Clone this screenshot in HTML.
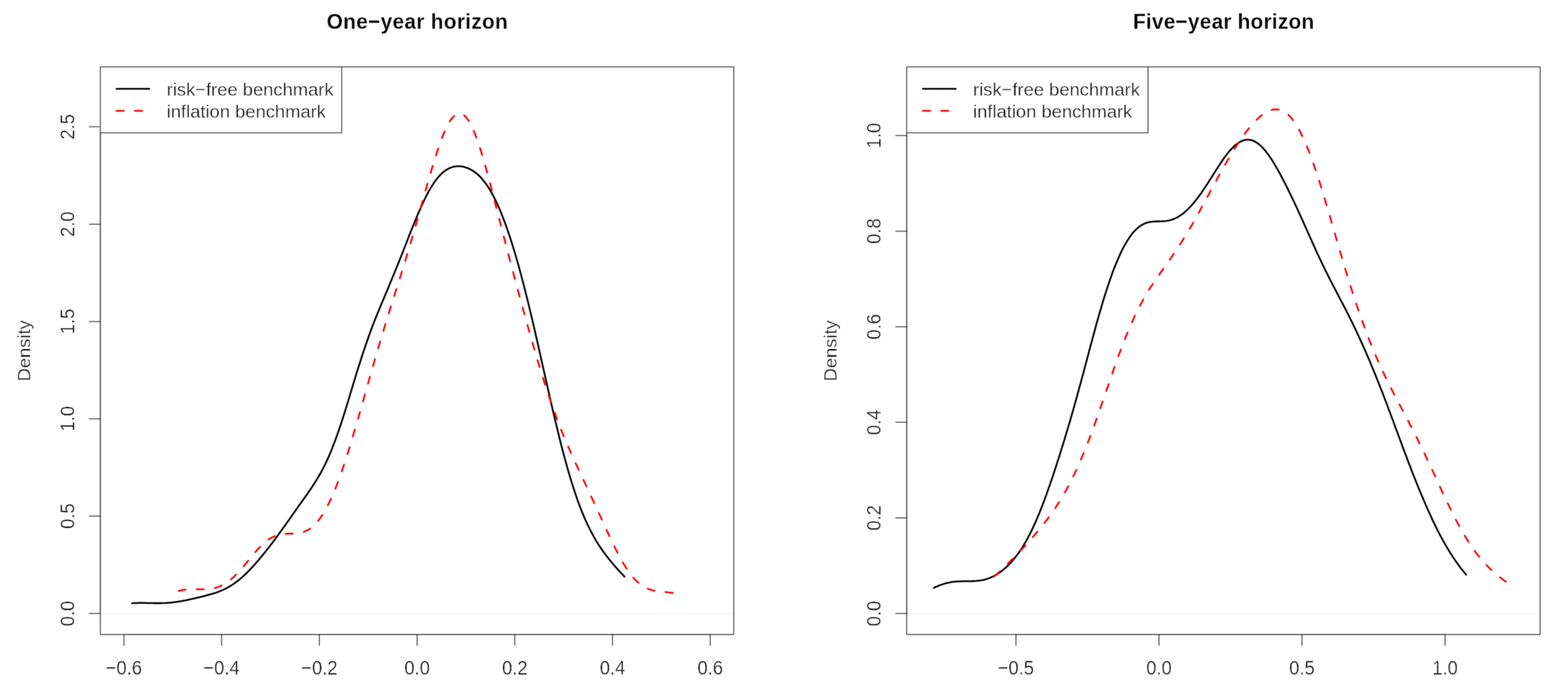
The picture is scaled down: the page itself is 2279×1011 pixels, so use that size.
<!DOCTYPE html>
<html><head><meta charset="utf-8"><title>Density plots</title>
<style>
html,body{margin:0;padding:0;background:#fff;}
svg{display:block;}
text{font-family:"Liberation Sans",sans-serif;fill:#0c0c0c;stroke:#fff;stroke-width:0.42px;}
.t{font-weight:bold;font-size:30.4px;fill:#000;stroke:#fff;stroke-width:0.3px;}
.l{font-size:26.7px;}
.ax{stroke:#000;stroke-opacity:0.8;stroke-width:1.25;fill:none;stroke-linecap:round;stroke-linejoin:round;}
.a2{stroke:#000;stroke-opacity:0.27;stroke-width:1.25;fill:none;stroke-linecap:butt;}
</style></head><body>
<svg xmlns="http://www.w3.org/2000/svg" width="2279" height="1011" viewBox="0 0 2279 1011">
<rect width="2279" height="1011" fill="#fff"/>
<defs><filter id="soft" x="0" y="0" width="2279" height="1011" filterUnits="userSpaceOnUse" color-interpolation-filters="sRGB"><feConvolveMatrix order="3" kernelMatrix="0.01440 0.09120 0.01440 0.09120 0.57760 0.09120 0.01440 0.09120 0.01440" divisor="1" edgeMode="duplicate" preserveAlpha="true"/></filter></defs><g filter="url(#soft)"><rect width="2279" height="1011" fill="#fff"/>
<text class="t" transform="translate(474.8,42.25) scale(1,1.045)" textLength="263.2" lengthAdjust="spacing">One−year horizon</text>
<line x1="145.8" y1="891.5" x2="1066.5" y2="891.5" stroke="#e9e9e9" stroke-width="1"/>
<path d="M192.0,876.2 L193.8,876.1 L195.6,876.0 L197.4,876.0 L199.2,875.9 L201.0,875.8 L202.8,875.8 L204.6,875.8 L206.3,875.8 L208.1,875.8 L209.9,875.8 L211.7,875.8 L213.5,875.9 L215.3,875.9 L217.1,875.9 L218.9,876.0 L220.7,876.0 L222.5,876.1 L224.3,876.1 L226.1,876.1 L227.9,876.1 L229.7,876.1 L231.5,876.1 L233.3,876.1 L235.0,876.1 L236.8,876.0 L238.6,876.0 L240.4,875.9 L242.2,875.8 L244.0,875.7 L245.8,875.5 L247.6,875.4 L249.4,875.2 L251.2,875.0 L253.0,874.8 L254.8,874.6 L256.6,874.3 L258.4,874.1 L260.2,873.8 L261.9,873.5 L263.7,873.2 L265.5,872.8 L267.3,872.5 L269.1,872.2 L270.9,871.8 L272.7,871.4 L274.5,871.0 L276.3,870.6 L278.1,870.3 L279.9,869.8 L281.7,869.4 L283.5,869.0 L285.3,868.6 L287.1,868.2 L288.8,867.8 L290.6,867.3 L292.4,866.9 L294.2,866.5 L296.0,866.0 L297.8,865.6 L299.6,865.1 L301.4,864.6 L303.2,864.1 L305.0,863.6 L306.8,863.1 L308.6,862.6 L310.4,862.0 L312.2,861.5 L314.0,860.9 L315.8,860.2 L317.5,859.6 L319.3,858.9 L321.1,858.2 L322.9,857.4 L324.7,856.6 L326.5,855.7 L328.3,854.9 L330.1,853.9 L331.9,852.9 L333.7,851.9 L335.5,850.8 L337.3,849.7 L339.1,848.5 L340.9,847.2 L342.7,845.9 L344.4,844.6 L346.2,843.2 L348.0,841.7 L349.8,840.2 L351.6,838.7 L353.4,837.1 L355.2,835.4 L357.0,833.7 L358.8,832.0 L360.6,830.2 L362.4,828.3 L364.2,826.5 L366.0,824.5 L367.8,822.6 L369.6,820.6 L371.3,818.6 L373.1,816.6 L374.9,814.5 L376.7,812.4 L378.5,810.2 L380.3,808.1 L382.1,805.9 L383.9,803.7 L385.7,801.4 L387.5,799.2 L389.3,796.9 L391.1,794.6 L392.9,792.3 L394.7,789.9 L396.5,787.6 L398.3,785.2 L400.0,782.8 L401.8,780.4 L403.6,777.9 L405.4,775.5 L407.2,773.0 L409.0,770.5 L410.8,768.0 L412.6,765.5 L414.4,763.0 L416.2,760.5 L418.0,757.9 L419.8,755.4 L421.6,752.9 L423.4,750.3 L425.2,747.8 L426.9,745.3 L428.7,742.7 L430.5,740.2 L432.3,737.7 L434.1,735.1 L435.9,732.6 L437.7,730.1 L439.5,727.6 L441.3,725.1 L443.1,722.5 L444.9,720.0 L446.7,717.4 L448.5,714.8 L450.3,712.2 L452.1,709.6 L453.8,706.9 L455.6,704.2 L457.4,701.4 L459.2,698.6 L461.0,695.6 L462.8,692.6 L464.6,689.5 L466.4,686.3 L468.2,683.0 L470.0,679.6 L471.8,676.0 L473.6,672.4 L475.4,668.5 L477.2,664.6 L479.0,660.5 L480.8,656.2 L482.5,651.9 L484.3,647.3 L486.1,642.6 L487.9,637.8 L489.7,632.8 L491.5,627.7 L493.3,622.5 L495.1,617.1 L496.9,611.6 L498.7,606.0 L500.5,600.4 L502.3,594.7 L504.1,588.9 L505.9,583.0 L507.7,577.1 L509.4,571.2 L511.2,565.3 L513.0,559.4 L514.8,553.4 L516.6,547.6 L518.4,541.7 L520.2,536.0 L522.0,530.2 L523.8,524.6 L525.6,519.0 L527.4,513.5 L529.2,508.1 L531.0,502.8 L532.8,497.6 L534.6,492.5 L536.3,487.5 L538.1,482.6 L539.9,477.8 L541.7,473.0 L543.5,468.4 L545.3,463.8 L547.1,459.3 L548.9,454.8 L550.7,450.4 L552.5,446.1 L554.3,441.7 L556.1,437.4 L557.9,433.2 L559.7,428.9 L561.5,424.7 L563.3,420.4 L565.0,416.2 L566.8,411.9 L568.6,407.6 L570.4,403.3 L572.2,398.9 L574.0,394.5 L575.8,390.1 L577.6,385.7 L579.4,381.2 L581.2,376.8 L583.0,372.2 L584.8,367.7 L586.6,363.2 L588.4,358.6 L590.2,354.0 L591.9,349.4 L593.7,344.9 L595.5,340.3 L597.3,335.8 L599.1,331.3 L600.9,326.8 L602.7,322.4 L604.5,318.1 L606.3,313.8 L608.1,309.5 L609.9,305.4 L611.7,301.4 L613.5,297.4 L615.3,293.5 L617.1,289.8 L618.8,286.2 L620.6,282.7 L622.4,279.3 L624.2,276.1 L626.0,273.0 L627.8,270.1 L629.6,267.3 L631.4,264.6 L633.2,262.1 L635.0,259.8 L636.8,257.6 L638.6,255.5 L640.4,253.7 L642.2,251.9 L644.0,250.3 L645.8,248.9 L647.5,247.6 L649.3,246.4 L651.1,245.4 L652.9,244.5 L654.7,243.7 L656.5,243.1 L658.3,242.5 L660.1,242.1 L661.9,241.8 L663.7,241.6 L665.5,241.5 L667.3,241.5 L669.1,241.6 L670.9,241.8 L672.7,242.1 L674.4,242.5 L676.2,243.0 L678.0,243.6 L679.8,244.2 L681.6,245.0 L683.4,245.9 L685.2,246.8 L687.0,247.9 L688.8,249.1 L690.6,250.4 L692.4,251.8 L694.2,253.3 L696.0,255.0 L697.8,256.7 L699.6,258.6 L701.3,260.7 L703.1,262.8 L704.9,265.2 L706.7,267.6 L708.5,270.2 L710.3,273.0 L712.1,275.9 L713.9,279.0 L715.7,282.2 L717.5,285.5 L719.3,289.1 L721.1,292.7 L722.9,296.6 L724.7,300.6 L726.5,304.7 L728.3,309.0 L730.0,313.5 L731.8,318.1 L733.6,322.8 L735.4,327.8 L737.2,332.8 L739.0,338.0 L740.8,343.4 L742.6,348.9 L744.4,354.5 L746.2,360.3 L748.0,366.2 L749.8,372.3 L751.6,378.5 L753.4,384.8 L755.2,391.2 L756.9,397.8 L758.7,404.5 L760.5,411.4 L762.3,418.3 L764.1,425.4 L765.9,432.6 L767.7,439.8 L769.5,447.2 L771.3,454.7 L773.1,462.3 L774.9,469.9 L776.7,477.6 L778.5,485.4 L780.3,493.2 L782.1,501.1 L783.8,509.0 L785.6,517.0 L787.4,525.0 L789.2,533.0 L791.0,541.0 L792.8,549.0 L794.6,556.9 L796.4,564.9 L798.2,572.8 L800.0,580.7 L801.8,588.5 L803.6,596.2 L805.4,603.9 L807.2,611.5 L809.0,619.0 L810.8,626.4 L812.5,633.6 L814.3,640.8 L816.1,647.9 L817.9,654.8 L819.7,661.6 L821.5,668.2 L823.3,674.7 L825.1,681.1 L826.9,687.3 L828.7,693.4 L830.5,699.3 L832.3,705.0 L834.1,710.6 L835.9,716.0 L837.7,721.3 L839.4,726.4 L841.2,731.3 L843.0,736.1 L844.8,740.7 L846.6,745.2 L848.4,749.5 L850.2,753.7 L852.0,757.7 L853.8,761.6 L855.6,765.3 L857.4,769.0 L859.2,772.4 L861.0,775.8 L862.8,779.1 L864.6,782.2 L866.3,785.3 L868.1,788.2 L869.9,791.1 L871.7,793.8 L873.5,796.5 L875.3,799.1 L877.1,801.6 L878.9,804.1 L880.7,806.5 L882.5,808.8 L884.3,811.1 L886.1,813.3 L887.9,815.5 L889.7,817.7 L891.5,819.8 L893.3,821.9 L895.0,823.9 L896.8,825.9 L898.6,827.9 L900.4,829.9 L902.2,831.8 L904.0,833.7 L905.8,835.6 L907.6,837.5" fill="none" stroke="#000" stroke-width="2.55" stroke-linecap="round" stroke-linejoin="round"/>
<path d="M259.5,858.5 L261.3,858.0 L263.1,857.6 L264.9,857.3 L266.7,857.0 L268.5,856.7 L270.3,856.5 L272.1,856.3 L273.9,856.2 L275.7,856.1 L277.5,856.0 L279.3,856.0 L281.1,855.9 L282.9,855.9 L284.7,855.9 L286.5,855.9 L288.3,855.9 L290.1,855.9 L291.9,855.9 L293.7,855.9 L295.5,855.9 L297.3,855.9 L299.1,855.8 L300.9,855.7 L302.7,855.6 L304.5,855.4 L306.3,855.2 L308.1,854.9 L309.9,854.6 L311.8,854.2 L313.6,853.7 L315.4,853.2 L317.2,852.6 L319.0,851.9 L320.8,851.1 L322.6,850.3 L324.4,849.3 L326.2,848.3 L328.0,847.2 L329.8,846.0 L331.6,844.8 L333.4,843.4 L335.2,842.0 L337.0,840.5 L338.8,838.8 L340.6,837.2 L342.4,835.4 L344.2,833.6 L346.0,831.7 L347.8,829.7 L349.6,827.7 L351.4,825.7 L353.2,823.6 L355.0,821.4 L356.8,819.3 L358.6,817.1 L360.4,814.9 L362.2,812.7 L364.0,810.5 L365.8,808.3 L367.6,806.2 L369.4,804.0 L371.2,801.9 L373.0,799.9 L374.8,797.9 L376.6,795.9 L378.4,794.0 L380.2,792.2 L382.0,790.5 L383.8,788.9 L385.6,787.3 L387.4,785.9 L389.2,784.5 L391.0,783.3 L392.8,782.1 L394.6,781.1 L396.4,780.1 L398.2,779.3 L400.0,778.5 L401.8,777.9 L403.6,777.3 L405.4,776.8 L407.2,776.4 L409.0,776.1 L410.8,775.8 L412.6,775.6 L414.5,775.5 L416.3,775.4 L418.1,775.3 L419.9,775.2 L421.7,775.2 L423.5,775.1 L425.3,775.1 L427.1,775.0 L428.9,774.9 L430.7,774.8 L432.5,774.6 L434.3,774.4 L436.1,774.0 L437.9,773.6 L439.7,773.2 L441.5,772.6 L443.3,771.9 L445.1,771.1 L446.9,770.2 L448.7,769.1 L450.5,768.0 L452.3,766.7 L454.1,765.2 L455.9,763.6 L457.7,761.9 L459.5,760.0 L461.3,757.9 L463.1,755.7 L464.9,753.3 L466.7,750.7 L468.5,748.0 L470.3,745.2 L472.1,742.1 L473.9,738.9 L475.7,735.6 L477.5,732.0 L479.3,728.3 L481.1,724.5 L482.9,720.5 L484.7,716.3 L486.5,712.0 L488.3,707.5 L490.1,702.9 L491.9,698.1 L493.7,693.2 L495.5,688.2 L497.3,683.0 L499.1,677.8 L500.9,672.4 L502.7,666.8 L504.5,661.2 L506.3,655.5 L508.1,649.7 L509.9,643.8 L511.7,637.8 L513.5,631.8 L515.3,625.7 L517.2,619.5 L519.0,613.2 L520.8,607.0 L522.6,600.7 L524.4,594.3 L526.2,588.0 L528.0,581.6 L529.8,575.2 L531.6,568.8 L533.4,562.4 L535.2,556.0 L537.0,549.7 L538.8,543.3 L540.6,537.0 L542.4,530.7 L544.2,524.5 L546.0,518.3 L547.8,512.1 L549.6,506.0 L551.4,499.9 L553.2,493.8 L555.0,487.9 L556.8,481.9 L558.6,476.0 L560.4,470.1 L562.2,464.3 L564.0,458.5 L565.8,452.7 L567.6,447.0 L569.4,441.3 L571.2,435.6 L573.0,429.9 L574.8,424.2 L576.6,418.5 L578.4,412.9 L580.2,407.2 L582.0,401.4 L583.8,395.7 L585.6,389.9 L587.4,384.1 L589.2,378.3 L591.0,372.4 L592.8,366.4 L594.6,360.4 L596.4,354.4 L598.2,348.3 L600.0,342.1 L601.8,335.9 L603.6,329.7 L605.4,323.4 L607.2,317.0 L609.0,310.6 L610.8,304.2 L612.6,297.8 L614.4,291.4 L616.2,285.0 L618.0,278.6 L619.9,272.2 L621.7,265.8 L623.5,259.5 L625.3,253.3 L627.1,247.1 L628.9,241.1 L630.7,235.1 L632.5,229.3 L634.3,223.6 L636.1,218.1 L637.9,212.8 L639.7,207.7 L641.5,202.8 L643.3,198.1 L645.1,193.7 L646.9,189.5 L648.7,185.6 L650.5,182.0 L652.3,178.7 L654.1,175.7 L655.9,173.1 L657.7,170.8 L659.5,168.9 L661.3,167.3 L663.1,166.1 L664.9,165.3 L666.7,164.8 L668.5,164.8 L670.3,165.1 L672.1,165.9 L673.9,167.0 L675.7,168.5 L677.5,170.4 L679.3,172.7 L681.1,175.3 L682.9,178.3 L684.7,181.7 L686.5,185.4 L688.3,189.4 L690.1,193.8 L691.9,198.4 L693.7,203.4 L695.5,208.6 L697.3,214.0 L699.1,219.7 L700.9,225.6 L702.7,231.6 L704.5,237.9 L706.3,244.3 L708.1,250.8 L709.9,257.5 L711.7,264.3 L713.5,271.1 L715.3,278.0 L717.1,285.0 L718.9,292.0 L720.7,299.0 L722.6,306.1 L724.4,313.2 L726.2,320.2 L728.0,327.3 L729.8,334.3 L731.6,341.3 L733.4,348.3 L735.2,355.3 L737.0,362.3 L738.8,369.2 L740.6,376.1 L742.4,382.9 L744.2,389.7 L746.0,396.5 L747.8,403.2 L749.6,410.0 L751.4,416.7 L753.2,423.3 L755.0,430.0 L756.8,436.6 L758.6,443.2 L760.4,449.7 L762.2,456.2 L764.0,462.7 L765.8,469.2 L767.6,475.6 L769.4,482.0 L771.2,488.3 L773.0,494.6 L774.8,500.9 L776.6,507.1 L778.4,513.3 L780.2,519.4 L782.0,525.4 L783.8,531.4 L785.6,537.3 L787.4,543.2 L789.2,548.9 L791.0,554.6 L792.8,560.3 L794.6,565.8 L796.4,571.3 L798.2,576.6 L800.0,581.9 L801.8,587.1 L803.6,592.3 L805.4,597.3 L807.2,602.2 L809.0,607.1 L810.8,611.9 L812.6,616.6 L814.4,621.2 L816.2,625.7 L818.0,630.2 L819.8,634.6 L821.6,638.9 L823.4,643.2 L825.3,647.4 L827.1,651.6 L828.9,655.7 L830.7,659.7 L832.5,663.7 L834.3,667.7 L836.1,671.6 L837.9,675.6 L839.7,679.4 L841.5,683.3 L843.3,687.2 L845.1,691.0 L846.9,694.8 L848.7,698.6 L850.5,702.5 L852.3,706.3 L854.1,710.1 L855.9,714.0 L857.7,717.8 L859.5,721.7 L861.3,725.6 L863.1,729.5 L864.9,733.4 L866.7,737.3 L868.5,741.2 L870.3,745.1 L872.1,749.1 L873.9,753.0 L875.7,756.9 L877.5,760.9 L879.3,764.8 L881.1,768.7 L882.9,772.6 L884.7,776.5 L886.5,780.4 L888.3,784.2 L890.1,787.9 L891.9,791.6 L893.7,795.3 L895.5,798.9 L897.3,802.4 L899.1,805.9 L900.9,809.2 L902.7,812.5 L904.5,815.7 L906.3,818.8 L908.1,821.8 L909.9,824.6 L911.7,827.4 L913.5,830.0 L915.3,832.5 L917.1,834.9 L918.9,837.2 L920.7,839.3 L922.5,841.3 L924.3,843.2 L926.1,844.9 L928.0,846.5 L929.8,848.1 L931.6,849.4 L933.4,850.7 L935.2,851.9 L937.0,852.9 L938.8,853.9 L940.6,854.7 L942.4,855.5 L944.2,856.1 L946.0,856.7 L947.8,857.3 L949.6,857.7 L951.4,858.1 L953.2,858.4 L955.0,858.7 L956.8,859.0 L958.6,859.2 L960.4,859.4 L962.2,859.6 L964.0,859.8 L965.8,860.0 L967.6,860.1 L969.4,860.3 L971.2,860.5 L973.0,860.7 L974.8,860.9 L976.6,861.1 L978.4,861.4" fill="none" stroke="#f00" stroke-width="2.55" stroke-linecap="round" stroke-linejoin="round" stroke-dasharray="10.4 16.22"/>
<rect class="ax" x="145.8" y="97.05" width="920.7" height="824.5"/>
<line class="a2" x1="180.1" y1="921.55" x2="1032.3" y2="921.55"/>
<line class="a2" x1="145.8" y1="891.1" x2="145.8" y2="184.2"/>
<line class="ax" x1="180.1" y1="921.55" x2="180.1" y2="937.6"/>
<text class="l" transform="translate(180.1,979.6) scale(1,1.09)" text-anchor="middle">−0.6</text>
<line class="ax" x1="322.1" y1="921.55" x2="322.1" y2="937.6"/>
<text class="l" transform="translate(322.1,979.6) scale(1,1.09)" text-anchor="middle">−0.4</text>
<line class="ax" x1="464.2" y1="921.55" x2="464.2" y2="937.6"/>
<text class="l" transform="translate(464.2,979.6) scale(1,1.09)" text-anchor="middle">−0.2</text>
<line class="ax" x1="606.2" y1="921.55" x2="606.2" y2="937.6"/>
<text class="l" transform="translate(606.2,979.6) scale(1,1.09)" text-anchor="middle">0.0</text>
<line class="ax" x1="748.2" y1="921.55" x2="748.2" y2="937.6"/>
<text class="l" transform="translate(748.2,979.6) scale(1,1.09)" text-anchor="middle">0.2</text>
<line class="ax" x1="890.3" y1="921.55" x2="890.3" y2="937.6"/>
<text class="l" transform="translate(890.3,979.6) scale(1,1.09)" text-anchor="middle">0.4</text>
<line class="ax" x1="1032.3" y1="921.55" x2="1032.3" y2="937.6"/>
<text class="l" transform="translate(1032.3,979.6) scale(1,1.09)" text-anchor="middle">0.6</text>
<line class="ax" x1="145.8" y1="891.1" x2="129.8" y2="891.1"/>
<text class="l" transform="translate(107.6,891.1) rotate(-90) scale(1,1.09)" text-anchor="middle">0.0</text>
<line class="ax" x1="145.8" y1="749.7" x2="129.8" y2="749.7"/>
<text class="l" transform="translate(107.6,749.7) rotate(-90) scale(1,1.09)" text-anchor="middle">0.5</text>
<line class="ax" x1="145.8" y1="608.3" x2="129.8" y2="608.3"/>
<text class="l" transform="translate(107.6,608.3) rotate(-90) scale(1,1.09)" text-anchor="middle">1.0</text>
<line class="ax" x1="145.8" y1="467.0" x2="129.8" y2="467.0"/>
<text class="l" transform="translate(107.6,467.0) rotate(-90) scale(1,1.09)" text-anchor="middle">1.5</text>
<line class="ax" x1="145.8" y1="325.6" x2="129.8" y2="325.6"/>
<text class="l" transform="translate(107.6,325.6) rotate(-90) scale(1,1.09)" text-anchor="middle">2.0</text>
<line class="ax" x1="145.8" y1="184.2" x2="129.8" y2="184.2"/>
<text class="l" transform="translate(107.6,184.2) rotate(-90) scale(1,1.09)" text-anchor="middle">2.5</text>
<text class="l" transform="translate(44.1,509.6) rotate(-90)" text-anchor="middle">Density</text>
<rect x="144.6" y="95.8" width="352.0" height="96.9" fill="#fff"/>
<rect class="ax" x="145.8" y="97.05" width="350.8" height="95.7"/>
<line x1="169.4" y1="128.9" x2="217.1" y2="128.9" stroke="#000" stroke-width="2.55" stroke-linecap="round"/>
<line x1="169.4" y1="161" x2="217.1" y2="161" stroke="#f00" stroke-width="2.55" stroke-linecap="round" stroke-dasharray="10.5 16.15"/>
<text class="l" x="242.3" y="139">risk−free benchmark</text>
<text class="l" x="242.3" y="171">inflation benchmark</text>
<text class="t" transform="translate(1646.8,42.25) scale(1,1.045)" textLength="263.2" lengthAdjust="spacing">Five−year horizon</text>
<line x1="1317.8" y1="891.5" x2="2238.5" y2="891.5" stroke="#e9e9e9" stroke-width="1"/>
<path d="M1357.4,853.9 L1359.3,853.0 L1361.3,852.1 L1363.2,851.3 L1365.2,850.5 L1367.1,849.8 L1369.0,849.1 L1371.0,848.4 L1372.9,847.8 L1374.8,847.3 L1376.8,846.8 L1378.7,846.4 L1380.7,846.0 L1382.6,845.6 L1384.5,845.3 L1386.5,845.1 L1388.4,844.9 L1390.4,844.7 L1392.3,844.6 L1394.2,844.5 L1396.2,844.4 L1398.1,844.3 L1400.1,844.3 L1402.0,844.3 L1403.9,844.3 L1405.9,844.3 L1407.8,844.2 L1409.7,844.2 L1411.7,844.2 L1413.6,844.1 L1415.6,844.1 L1417.5,843.9 L1419.4,843.8 L1421.4,843.6 L1423.3,843.4 L1425.3,843.1 L1427.2,842.8 L1429.1,842.4 L1431.1,841.9 L1433.0,841.4 L1435.0,840.8 L1436.9,840.1 L1438.8,839.4 L1440.8,838.5 L1442.7,837.6 L1444.6,836.7 L1446.6,835.6 L1448.5,834.5 L1450.5,833.3 L1452.4,832.0 L1454.3,830.6 L1456.3,829.1 L1458.2,827.6 L1460.2,826.0 L1462.1,824.3 L1464.0,822.4 L1466.0,820.6 L1467.9,818.6 L1469.9,816.5 L1471.8,814.3 L1473.7,812.0 L1475.7,809.6 L1477.6,807.1 L1479.5,804.5 L1481.5,801.8 L1483.4,799.0 L1485.4,796.0 L1487.3,792.9 L1489.2,789.7 L1491.2,786.3 L1493.1,782.9 L1495.1,779.2 L1497.0,775.5 L1498.9,771.6 L1500.9,767.5 L1502.8,763.4 L1504.8,759.1 L1506.7,754.6 L1508.6,750.0 L1510.6,745.3 L1512.5,740.5 L1514.4,735.6 L1516.4,730.5 L1518.3,725.4 L1520.3,720.1 L1522.2,714.7 L1524.1,709.2 L1526.1,703.7 L1528.0,698.0 L1530.0,692.3 L1531.9,686.5 L1533.8,680.6 L1535.8,674.7 L1537.7,668.7 L1539.7,662.6 L1541.6,656.4 L1543.5,650.2 L1545.5,644.0 L1547.4,637.6 L1549.3,631.2 L1551.3,624.7 L1553.2,618.2 L1555.2,611.6 L1557.1,604.9 L1559.0,598.1 L1561.0,591.3 L1562.9,584.4 L1564.9,577.4 L1566.8,570.4 L1568.7,563.3 L1570.7,556.2 L1572.6,549.0 L1574.6,541.8 L1576.5,534.5 L1578.4,527.3 L1580.4,520.0 L1582.3,512.7 L1584.2,505.4 L1586.2,498.2 L1588.1,491.0 L1590.1,483.8 L1592.0,476.7 L1593.9,469.7 L1595.9,462.8 L1597.8,456.0 L1599.8,449.3 L1601.7,442.7 L1603.6,436.2 L1605.6,429.9 L1607.5,423.8 L1609.5,417.8 L1611.4,411.9 L1613.3,406.3 L1615.3,400.8 L1617.2,395.5 L1619.1,390.4 L1621.1,385.5 L1623.0,380.7 L1625.0,376.2 L1626.9,371.8 L1628.8,367.6 L1630.8,363.6 L1632.7,359.8 L1634.7,356.2 L1636.6,352.8 L1638.5,349.6 L1640.5,346.6 L1642.4,343.7 L1644.3,341.1 L1646.3,338.6 L1648.2,336.4 L1650.2,334.3 L1652.1,332.4 L1654.0,330.7 L1656.0,329.2 L1657.9,327.8 L1659.9,326.6 L1661.8,325.6 L1663.7,324.7 L1665.7,323.9 L1667.6,323.3 L1669.6,322.8 L1671.5,322.5 L1673.4,322.2 L1675.4,321.9 L1677.3,321.8 L1679.2,321.7 L1681.2,321.6 L1683.1,321.6 L1685.1,321.5 L1687.0,321.5 L1688.9,321.4 L1690.9,321.3 L1692.8,321.2 L1694.8,321.0 L1696.7,320.7 L1698.6,320.3 L1700.6,319.9 L1702.5,319.3 L1704.5,318.7 L1706.4,317.9 L1708.3,317.1 L1710.3,316.2 L1712.2,315.1 L1714.1,313.9 L1716.1,312.6 L1718.0,311.3 L1720.0,309.8 L1721.9,308.2 L1723.8,306.4 L1725.8,304.6 L1727.7,302.7 L1729.7,300.7 L1731.6,298.6 L1733.5,296.4 L1735.5,294.1 L1737.4,291.7 L1739.4,289.3 L1741.3,286.7 L1743.2,284.1 L1745.2,281.4 L1747.1,278.6 L1749.0,275.8 L1751.0,272.9 L1752.9,270.0 L1754.9,267.0 L1756.8,264.0 L1758.7,260.9 L1760.7,257.9 L1762.6,254.8 L1764.6,251.7 L1766.5,248.6 L1768.4,245.6 L1770.4,242.6 L1772.3,239.6 L1774.3,236.7 L1776.2,233.8 L1778.1,231.0 L1780.1,228.3 L1782.0,225.7 L1783.9,223.2 L1785.9,220.8 L1787.8,218.5 L1789.8,216.4 L1791.7,214.4 L1793.6,212.5 L1795.6,210.8 L1797.5,209.2 L1799.5,207.8 L1801.4,206.6 L1803.3,205.5 L1805.3,204.7 L1807.2,204.0 L1809.2,203.4 L1811.1,203.1 L1813.0,202.9 L1815.0,203.0 L1816.9,203.2 L1818.8,203.6 L1820.8,204.2 L1822.7,205.0 L1824.7,206.0 L1826.6,207.2 L1828.5,208.5 L1830.5,210.1 L1832.4,211.8 L1834.4,213.7 L1836.3,215.8 L1838.2,218.0 L1840.2,220.4 L1842.1,222.9 L1844.1,225.6 L1846.0,228.4 L1847.9,231.3 L1849.9,234.3 L1851.8,237.5 L1853.7,240.7 L1855.7,244.1 L1857.6,247.5 L1859.6,251.0 L1861.5,254.6 L1863.4,258.3 L1865.4,262.0 L1867.3,265.7 L1869.3,269.6 L1871.2,273.4 L1873.1,277.4 L1875.1,281.3 L1877.0,285.4 L1878.9,289.4 L1880.9,293.5 L1882.8,297.6 L1884.8,301.8 L1886.7,306.0 L1888.6,310.2 L1890.6,314.5 L1892.5,318.8 L1894.5,323.1 L1896.4,327.4 L1898.3,331.7 L1900.3,336.0 L1902.2,340.4 L1904.2,344.7 L1906.1,349.0 L1908.0,353.4 L1910.0,357.6 L1911.9,361.9 L1913.8,366.2 L1915.8,370.4 L1917.7,374.5 L1919.7,378.6 L1921.6,382.7 L1923.5,386.7 L1925.5,390.7 L1927.4,394.7 L1929.4,398.6 L1931.3,402.4 L1933.2,406.2 L1935.2,410.0 L1937.1,413.8 L1939.1,417.5 L1941.0,421.2 L1942.9,424.9 L1944.9,428.6 L1946.8,432.3 L1948.7,436.0 L1950.7,439.7 L1952.6,443.4 L1954.6,447.2 L1956.5,450.9 L1958.4,454.7 L1960.4,458.6 L1962.3,462.5 L1964.3,466.4 L1966.2,470.3 L1968.1,474.3 L1970.1,478.4 L1972.0,482.5 L1974.0,486.7 L1975.9,490.9 L1977.8,495.1 L1979.8,499.4 L1981.7,503.7 L1983.6,508.1 L1985.6,512.6 L1987.5,517.0 L1989.5,521.6 L1991.4,526.1 L1993.3,530.8 L1995.3,535.4 L1997.2,540.1 L1999.2,544.9 L2001.1,549.7 L2003.0,554.5 L2005.0,559.4 L2006.9,564.4 L2008.9,569.3 L2010.8,574.4 L2012.7,579.4 L2014.7,584.5 L2016.6,589.6 L2018.5,594.8 L2020.5,599.9 L2022.4,605.1 L2024.4,610.4 L2026.3,615.6 L2028.2,620.8 L2030.2,626.1 L2032.1,631.3 L2034.1,636.6 L2036.0,641.8 L2037.9,647.0 L2039.9,652.2 L2041.8,657.4 L2043.8,662.5 L2045.7,667.7 L2047.6,672.8 L2049.6,677.8 L2051.5,682.8 L2053.4,687.8 L2055.4,692.7 L2057.3,697.6 L2059.3,702.4 L2061.2,707.2 L2063.1,712.0 L2065.1,716.6 L2067.0,721.3 L2069.0,725.8 L2070.9,730.3 L2072.8,734.8 L2074.8,739.2 L2076.7,743.5 L2078.7,747.8 L2080.6,751.9 L2082.5,756.1 L2084.5,760.1 L2086.4,764.1 L2088.3,768.0 L2090.3,771.9 L2092.2,775.6 L2094.2,779.3 L2096.1,782.9 L2098.0,786.4 L2100.0,789.9 L2101.9,793.2 L2103.9,796.5 L2105.8,799.7 L2107.7,802.9 L2109.7,805.9 L2111.6,808.9 L2113.6,811.8 L2115.5,814.6 L2117.4,817.4 L2119.4,820.0 L2121.3,822.7 L2123.2,825.2 L2125.2,827.7 L2127.1,830.1 L2129.1,832.5 L2131.0,834.8" fill="none" stroke="#000" stroke-width="2.55" stroke-linecap="round" stroke-linejoin="round"/>
<path d="M1445.2,837.1 L1447.1,835.5 L1448.9,833.8 L1450.8,832.1 L1452.7,830.4 L1454.5,828.6 L1456.4,826.9 L1458.3,825.1 L1460.2,823.3 L1462.0,821.5 L1463.9,819.7 L1465.8,817.8 L1467.6,816.0 L1469.5,814.1 L1471.4,812.2 L1473.2,810.3 L1475.1,808.4 L1477.0,806.5 L1478.8,804.5 L1480.7,802.6 L1482.6,800.6 L1484.5,798.6 L1486.3,796.6 L1488.2,794.6 L1490.1,792.6 L1491.9,790.5 L1493.8,788.4 L1495.7,786.4 L1497.5,784.3 L1499.4,782.1 L1501.3,780.0 L1503.1,777.8 L1505.0,775.6 L1506.9,773.4 L1508.8,771.2 L1510.6,768.9 L1512.5,766.6 L1514.4,764.3 L1516.2,762.0 L1518.1,759.6 L1520.0,757.1 L1521.8,754.7 L1523.7,752.2 L1525.6,749.6 L1527.4,747.0 L1529.3,744.4 L1531.2,741.7 L1533.1,739.0 L1534.9,736.2 L1536.8,733.3 L1538.7,730.4 L1540.5,727.4 L1542.4,724.3 L1544.3,721.2 L1546.1,718.0 L1548.0,714.8 L1549.9,711.4 L1551.7,708.0 L1553.6,704.5 L1555.5,700.9 L1557.4,697.3 L1559.2,693.5 L1561.1,689.7 L1563.0,685.7 L1564.8,681.7 L1566.7,677.6 L1568.6,673.4 L1570.4,669.1 L1572.3,664.7 L1574.2,660.2 L1576.0,655.7 L1577.9,651.0 L1579.8,646.3 L1581.6,641.5 L1583.5,636.6 L1585.4,631.7 L1587.3,626.6 L1589.1,621.5 L1591.0,616.4 L1592.9,611.2 L1594.7,605.9 L1596.6,600.6 L1598.5,595.2 L1600.3,589.8 L1602.2,584.4 L1604.1,579.0 L1605.9,573.5 L1607.8,568.1 L1609.7,562.6 L1611.6,557.2 L1613.4,551.8 L1615.3,546.4 L1617.2,541.0 L1619.0,535.6 L1620.9,530.4 L1622.8,525.1 L1624.6,519.9 L1626.5,514.8 L1628.4,509.8 L1630.2,504.8 L1632.1,499.9 L1634.0,495.1 L1635.9,490.3 L1637.7,485.7 L1639.6,481.2 L1641.5,476.7 L1643.3,472.4 L1645.2,468.1 L1647.1,464.0 L1648.9,460.0 L1650.8,456.0 L1652.7,452.2 L1654.5,448.5 L1656.4,444.8 L1658.3,441.3 L1660.2,437.8 L1662.0,434.5 L1663.9,431.2 L1665.8,428.0 L1667.6,424.9 L1669.5,421.8 L1671.4,418.8 L1673.2,415.9 L1675.1,413.1 L1677.0,410.2 L1678.8,407.5 L1680.7,404.7 L1682.6,402.0 L1684.5,399.3 L1686.3,396.7 L1688.2,394.0 L1690.1,391.4 L1691.9,388.8 L1693.8,386.2 L1695.7,383.5 L1697.5,380.9 L1699.4,378.2 L1701.3,375.6 L1703.1,372.9 L1705.0,370.2 L1706.9,367.4 L1708.8,364.7 L1710.6,361.9 L1712.5,359.0 L1714.4,356.1 L1716.2,353.2 L1718.1,350.3 L1720.0,347.3 L1721.8,344.3 L1723.7,341.2 L1725.6,338.1 L1727.4,335.0 L1729.3,331.9 L1731.2,328.7 L1733.1,325.4 L1734.9,322.2 L1736.8,318.9 L1738.7,315.5 L1740.5,312.2 L1742.4,308.8 L1744.3,305.4 L1746.1,302.0 L1748.0,298.6 L1749.9,295.2 L1751.7,291.7 L1753.6,288.3 L1755.5,284.8 L1757.4,281.3 L1759.2,277.9 L1761.1,274.4 L1763.0,271.0 L1764.8,267.5 L1766.7,264.1 L1768.6,260.6 L1770.4,257.2 L1772.3,253.9 L1774.2,250.5 L1776.0,247.1 L1777.9,243.8 L1779.8,240.5 L1781.7,237.3 L1783.5,234.1 L1785.4,230.9 L1787.3,227.7 L1789.1,224.6 L1791.0,221.5 L1792.9,218.5 L1794.7,215.5 L1796.6,212.6 L1798.5,209.7 L1800.3,206.9 L1802.2,204.1 L1804.1,201.4 L1806.0,198.7 L1807.8,196.1 L1809.7,193.6 L1811.6,191.1 L1813.4,188.7 L1815.3,186.3 L1817.2,184.1 L1819.0,181.9 L1820.9,179.7 L1822.8,177.7 L1824.6,175.7 L1826.5,173.9 L1828.4,172.1 L1830.2,170.4 L1832.1,168.8 L1834.0,167.3 L1835.9,165.9 L1837.7,164.6 L1839.6,163.5 L1841.5,162.4 L1843.3,161.5 L1845.2,160.7 L1847.1,160.0 L1848.9,159.5 L1850.8,159.1 L1852.7,158.9 L1854.5,158.8 L1856.4,158.9 L1858.3,159.1 L1860.2,159.6 L1862.0,160.1 L1863.9,160.9 L1865.8,161.8 L1867.6,163.0 L1869.5,164.3 L1871.4,165.8 L1873.2,167.5 L1875.1,169.4 L1877.0,171.5 L1878.8,173.8 L1880.7,176.3 L1882.6,179.0 L1884.5,181.9 L1886.3,185.0 L1888.2,188.3 L1890.1,191.9 L1891.9,195.6 L1893.8,199.4 L1895.7,203.5 L1897.5,207.8 L1899.4,212.2 L1901.3,216.9 L1903.1,221.6 L1905.0,226.6 L1906.9,231.7 L1908.8,237.0 L1910.6,242.3 L1912.5,247.9 L1914.4,253.5 L1916.2,259.3 L1918.1,265.2 L1920.0,271.1 L1921.8,277.2 L1923.7,283.3 L1925.6,289.5 L1927.4,295.8 L1929.3,302.1 L1931.2,308.5 L1933.1,314.9 L1934.9,321.3 L1936.8,327.8 L1938.7,334.2 L1940.5,340.7 L1942.4,347.1 L1944.3,353.6 L1946.1,360.0 L1948.0,366.4 L1949.9,372.7 L1951.7,379.0 L1953.6,385.3 L1955.5,391.5 L1957.4,397.7 L1959.2,403.8 L1961.1,409.8 L1963.0,415.8 L1964.8,421.7 L1966.7,427.5 L1968.6,433.3 L1970.4,439.0 L1972.3,444.6 L1974.2,450.1 L1976.0,455.5 L1977.9,460.8 L1979.8,466.1 L1981.7,471.3 L1983.5,476.4 L1985.4,481.4 L1987.3,486.3 L1989.1,491.1 L1991.0,495.9 L1992.9,500.5 L1994.7,505.1 L1996.6,509.6 L1998.5,514.1 L2000.3,518.4 L2002.2,522.7 L2004.1,526.9 L2006.0,531.1 L2007.8,535.1 L2009.7,539.2 L2011.6,543.1 L2013.4,547.0 L2015.3,550.9 L2017.2,554.7 L2019.0,558.4 L2020.9,562.1 L2022.8,565.8 L2024.6,569.5 L2026.5,573.1 L2028.4,576.7 L2030.3,580.3 L2032.1,583.8 L2034.0,587.4 L2035.9,590.9 L2037.7,594.5 L2039.6,598.0 L2041.5,601.5 L2043.3,605.1 L2045.2,608.6 L2047.1,612.2 L2048.9,615.8 L2050.8,619.4 L2052.7,623.0 L2054.6,626.7 L2056.4,630.4 L2058.3,634.1 L2060.2,637.8 L2062.0,641.6 L2063.9,645.4 L2065.8,649.2 L2067.6,653.0 L2069.5,656.9 L2071.4,660.8 L2073.2,664.8 L2075.1,668.7 L2077.0,672.7 L2078.8,676.7 L2080.7,680.7 L2082.6,684.7 L2084.5,688.8 L2086.3,692.8 L2088.2,696.9 L2090.1,701.0 L2091.9,705.0 L2093.8,709.1 L2095.7,713.1 L2097.5,717.1 L2099.4,721.1 L2101.3,725.1 L2103.1,729.0 L2105.0,732.9 L2106.9,736.8 L2108.8,740.6 L2110.6,744.4 L2112.5,748.1 L2114.4,751.8 L2116.2,755.4 L2118.1,759.0 L2120.0,762.5 L2121.8,765.9 L2123.7,769.3 L2125.6,772.6 L2127.4,775.8 L2129.3,778.9 L2131.2,782.0 L2133.1,785.0 L2134.9,787.9 L2136.8,790.8 L2138.7,793.6 L2140.5,796.3 L2142.4,798.9 L2144.3,801.5 L2146.1,803.9 L2148.0,806.4 L2149.9,808.7 L2151.7,811.0 L2153.6,813.2 L2155.5,815.3 L2157.4,817.4 L2159.2,819.4 L2161.1,821.4 L2163.0,823.3 L2164.8,825.1 L2166.7,826.9 L2168.6,828.7 L2170.4,830.4 L2172.3,832.1 L2174.2,833.7 L2176.0,835.3 L2177.9,836.8 L2179.8,838.3 L2181.7,839.8 L2183.5,841.2 L2185.4,842.6 L2187.3,844.0 L2189.1,845.4 L2191.0,846.7" fill="none" stroke="#f00" stroke-width="2.55" stroke-linecap="round" stroke-linejoin="round" stroke-dasharray="10.4 16.22"/>
<rect class="ax" x="1317.8" y="97.05" width="920.7" height="824.5"/>
<line class="a2" x1="1476.6" y1="921.55" x2="2100.4" y2="921.55"/>
<line class="a2" x1="1317.8" y1="891.1" x2="1317.8" y2="196.9"/>
<line class="ax" x1="1476.6" y1="921.55" x2="1476.6" y2="937.6"/>
<text class="l" transform="translate(1476.6,979.6) scale(1,1.09)" text-anchor="middle">−0.5</text>
<line class="ax" x1="1684.5" y1="921.55" x2="1684.5" y2="937.6"/>
<text class="l" transform="translate(1684.5,979.6) scale(1,1.09)" text-anchor="middle">0.0</text>
<line class="ax" x1="1892.4" y1="921.55" x2="1892.4" y2="937.6"/>
<text class="l" transform="translate(1892.4,979.6) scale(1,1.09)" text-anchor="middle">0.5</text>
<line class="ax" x1="2100.4" y1="921.55" x2="2100.4" y2="937.6"/>
<text class="l" transform="translate(2100.4,979.6) scale(1,1.09)" text-anchor="middle">1.0</text>
<line class="ax" x1="1317.8" y1="891.1" x2="1301.8" y2="891.1"/>
<text class="l" transform="translate(1279.6,891.1) rotate(-90) scale(1,1.09)" text-anchor="middle">0.0</text>
<line class="ax" x1="1317.8" y1="752.3" x2="1301.8" y2="752.3"/>
<text class="l" transform="translate(1279.6,752.3) rotate(-90) scale(1,1.09)" text-anchor="middle">0.2</text>
<line class="ax" x1="1317.8" y1="613.4" x2="1301.8" y2="613.4"/>
<text class="l" transform="translate(1279.6,613.4) rotate(-90) scale(1,1.09)" text-anchor="middle">0.4</text>
<line class="ax" x1="1317.8" y1="474.6" x2="1301.8" y2="474.6"/>
<text class="l" transform="translate(1279.6,474.6) rotate(-90) scale(1,1.09)" text-anchor="middle">0.6</text>
<line class="ax" x1="1317.8" y1="335.8" x2="1301.8" y2="335.8"/>
<text class="l" transform="translate(1279.6,335.8) rotate(-90) scale(1,1.09)" text-anchor="middle">0.8</text>
<line class="ax" x1="1317.8" y1="196.9" x2="1301.8" y2="196.9"/>
<text class="l" transform="translate(1279.6,196.9) rotate(-90) scale(1,1.09)" text-anchor="middle">1.0</text>
<text class="l" transform="translate(1216.1,509.6) rotate(-90)" text-anchor="middle">Density</text>
<rect x="1316.6" y="95.8" width="352.0" height="96.9" fill="#fff"/>
<rect class="ax" x="1317.8" y="97.05" width="350.8" height="95.7"/>
<line x1="1341.4" y1="128.9" x2="1389.1" y2="128.9" stroke="#000" stroke-width="2.55" stroke-linecap="round"/>
<line x1="1341.4" y1="161" x2="1389.1" y2="161" stroke="#f00" stroke-width="2.55" stroke-linecap="round" stroke-dasharray="10.5 16.15"/>
<text class="l" x="1414.3" y="139">risk−free benchmark</text>
<text class="l" x="1414.3" y="171">inflation benchmark</text>
</g>
</svg></body></html>
